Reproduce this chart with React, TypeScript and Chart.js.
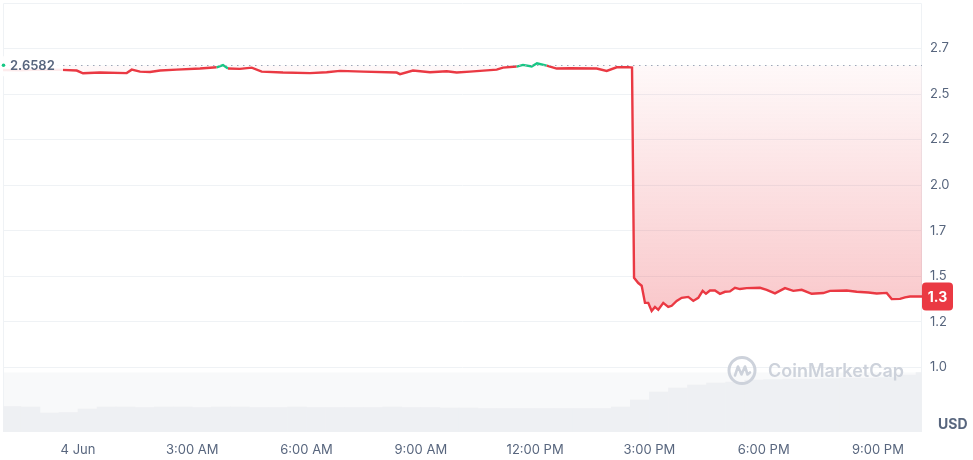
import React, { useEffect, useRef } from 'react';
import { Chart, registerables } from 'chart.js';

Chart.register(...registerables);

// ---- data ----
const REF_PRICE = 2.6582;

// hours relative to 4 Jun 00:00
const TIMES = [
  -1.969, -1.523, -0.998, -0.428, -0.034, 0.131, 0.578, 1.278, 1.41, 1.628,
  1.89, 2.153, 2.591, 3.203, 3.641, 3.806, 3.937, 4.252, 4.56, 4.822,
  5.381, 6.09, 6.528, 6.878, 7.481, 8.366, 8.453, 8.794, 9.24, 9.679,
  9.941, 10.29, 10.991, 11.156, 11.516, 11.681, 11.91, 12.049, 12.304, 12.566,
  12.915, 13.616, 13.879, 14.141, 14.446, 14.544, 14.597, 14.708, 14.797, 14.884,
  14.97, 15.059, 15.146, 15.233, 15.364, 15.495, 15.585, 15.716, 15.847, 16.02,
  16.152, 16.283, 16.398, 16.485, 16.59, 16.721, 16.852, 16.984, 17.115, 17.246,
  17.378, 17.553, 17.903, 18.079, 18.297, 18.559, 18.777, 18.998, 19.26, 19.565,
  19.741, 20.179, 20.442, 20.746, 20.967, 21.229, 21.361, 21.579, 21.71, 21.841,
  22.156,
];

const PRICES = [
  2.632, 2.63, 2.634, 2.633, 2.629, 2.614, 2.618, 2.615, 2.634, 2.623,
  2.621, 2.629, 2.634, 2.64, 2.647, 2.659, 2.64, 2.638, 2.645, 2.623,
  2.618, 2.615, 2.62, 2.627, 2.623, 2.618, 2.609, 2.629, 2.62, 2.625,
  2.618, 2.623, 2.634, 2.645, 2.651, 2.66, 2.651, 2.669, 2.656, 2.64,
  2.642, 2.64, 2.627, 2.647, 2.648, 2.645, 1.491, 1.462, 1.447, 1.353,
  1.353, 1.309, 1.331, 1.315, 1.353, 1.331, 1.337, 1.364, 1.381, 1.386,
  1.364, 1.381, 1.419, 1.403, 1.421, 1.421, 1.403, 1.414, 1.416, 1.436,
  1.429, 1.434, 1.436, 1.425, 1.405, 1.434, 1.419, 1.425, 1.403, 1.407,
  1.419, 1.421, 1.414, 1.41, 1.405, 1.408, 1.374, 1.375, 1.383, 1.388,
  1.388,
];

const VOL_TIMES = [
  -1.75, -1.25, -0.75, -0.25, 0.25, 0.75, 1.25, 1.75, 2.25, 2.75,
  3.25, 3.75, 4.25, 4.75, 5.25, 5.75, 6.25, 6.75, 7.25, 7.75,
  8.25, 8.75, 9.25, 9.75, 10.25, 10.75, 11.25, 11.75, 12.25, 12.75,
  13.25, 13.75, 14.25, 14.75, 15.25, 15.75, 16.25, 16.75, 17.25, 17.75,
  18.25, 18.75, 19.25, 19.75, 20.25, 20.75, 21.25, 21.75, 22.25,
];

// volume, millions USD
const VOLUMES = [
  2.55, 2.5, 1.9, 1.95, 2.3, 2.5, 2.5, 2.45, 2.5, 2.5,
  2.45, 2.5, 2.5, 2.45, 2.45, 2.5, 2.45, 2.45, 2.45, 2.45,
  2.5, 2.45, 2.45, 2.4, 2.4, 2.35, 2.35, 2.35, 2.35, 2.35,
  2.35, 2.35, 2.5, 3.2, 4.0, 4.4, 4.7, 4.9, 5.0, 5.2,
  5.25, 5.3, 5.3, 5.35, 5.4, 5.4, 5.45, 5.7, 5.95,
];

const VOL_BAND_TOP = 5.95;
const VOL_AXIS_MAX = 42.9;

const Y_MIN = 0.644;
const Y_MAX = 3.0;
const Y_TICKS = [1.0, 1.25, 1.5, 1.75, 2.0, 2.25, 2.5, 2.75];
const X_TICKS = [0, 3, 6, 9, 12, 15, 18, 21];
const X_LABELS = ['4 Jun', '3:00 AM', '6:00 AM', '9:00 AM', '12:00 PM', '3:00 PM', '6:00 PM', '9:00 PM'];

// ---- style ----
const RED = '#ea3943';
const GREEN = '#16c784';
const TEXT = '#58667e';
const GRID = '#eff2f5';
const FONT = 'Inter';

const trunc1 = (v: number) => (Math.floor(v * 10 + 1e-9) / 10).toFixed(1);

const decorPlugin = {
  id: 'decor',
  beforeDatasetsDraw(chart: any) {
    const { ctx, chartArea: a, scales } = chart;
    const bandTop = scales.yVol.getPixelForValue(VOL_BAND_TOP);
    ctx.save();
    ctx.fillStyle = '#f8f9fa';
    ctx.fillRect(a.left, bandTop, a.right - a.left, a.bottom - bandTop);
    ctx.strokeStyle = GRID;
    ctx.lineWidth = 1;
    ctx.beginPath();
    ctx.moveTo(a.left + 0.5, a.bottom);
    ctx.lineTo(a.left + 0.5, a.top + 0.5);
    ctx.lineTo(a.right - 0.5, a.top + 0.5);
    ctx.lineTo(a.right - 0.5, a.bottom);
    ctx.stroke();
    ctx.restore();
  },
  afterDatasetsDraw(chart: any) {
    const { ctx, chartArea: a, scales } = chart;
    ctx.save();
    // reference dotted line
    const ry = scales.y.getPixelForValue(REF_PRICE);
    const ryp = Math.round(ry) + 0.5;
    ctx.setLineDash([1.5, 4.5]);
    ctx.lineWidth = 1;
    ctx.strokeStyle = '#9ea6b8';
    ctx.beginPath();
    ctx.moveTo(a.left, ryp);
    ctx.lineTo(a.right, ryp);
    ctx.stroke();
    ctx.setLineDash([]);

    // reference label
    ctx.fillStyle = 'rgba(255,255,255,0.9)';
    ctx.fillRect(a.left - 2, ry - 9, 62, 20);
    ctx.fillStyle = GREEN;
    ctx.beginPath();
    ctx.arc(a.left + 0.5, ry, 1.8, 0, Math.PI * 2);
    ctx.fill();
    ctx.font = `600 13px ${FONT}`;
    ctx.fillStyle = TEXT;
    ctx.textBaseline = 'middle';
    ctx.textAlign = 'left';
    ctx.fillText(REF_PRICE.toFixed(4), a.left + 7, ry + 1);

    // watermark
    const wc = '#cdd2db';
    const cx = a.right - 180;
    const cy = a.bottom - 61.5;
    ctx.strokeStyle = wc;
    ctx.lineWidth = 3;
    ctx.lineJoin = 'round';
    ctx.lineCap = 'round';
    ctx.beginPath();
    ctx.arc(cx, cy, 13, 0, Math.PI * 2);
    ctx.stroke();
    ctx.lineWidth = 2.6;
    ctx.beginPath();
    ctx.moveTo(cx - 7, cy + 5);
    ctx.lineTo(cx - 4, cy - 4);
    ctx.lineTo(cx - 0.5, cy + 4);
    ctx.lineTo(cx + 3, cy - 4);
    ctx.lineTo(cx + 5.5, cy + 4);
    ctx.lineTo(cx + 8, cy + 2);
    ctx.stroke();
    ctx.fillStyle = wc;
    ctx.font = `600 18px ${FONT}`;
    ctx.textAlign = 'left';
    ctx.textBaseline = 'middle';
    ctx.fillText('CoinMarketCap', cx + 26, cy + 1);

    // last price badge
    const last = PRICES[PRICES.length - 1];
    const ly = scales.y.getPixelForValue(last);
    ctx.fillStyle = RED;
    ctx.beginPath();
    (ctx as any).roundRect(a.right, ly - 14, 31, 28, 4);
    ctx.fill();
    ctx.fillStyle = '#ffffff';
    ctx.font = `700 14px ${FONT}`;
    ctx.textAlign = 'center';
    ctx.fillText(trunc1(last), a.right + 15.5, ly + 1);

    // unit
    ctx.fillStyle = TEXT;
    ctx.font = `700 14px ${FONT}`;
    ctx.textAlign = 'left';
    ctx.fillText('USD', a.right + 16, a.bottom - 7);
    ctx.restore();
  },
};

export default function App() {
  const ref = useRef<HTMLCanvasElement | null>(null);

  useEffect(() => {
    document.body.style.margin = '0';
    const canvas = ref.current;
    if (!canvas) return;
    const chart = new Chart(canvas, {
      type: 'line',
      data: {
        datasets: [
          {
            type: 'line',
            data: TIMES.map((t, i) => ({ x: t, y: PRICES[i] })),
            yAxisID: 'y',
            borderColor: RED,
            borderWidth: 2.4,
            pointRadius: 0,
            tension: 0,
            order: 0,
            segment: {
              borderColor: (c: any) =>
                c.p0.parsed.y > REF_PRICE || c.p1.parsed.y > REF_PRICE ? GREEN : RED,
            },
            fill: { target: { value: REF_PRICE }, above: 'rgba(22,199,132,0.12)' },
            backgroundColor: (c: any) => {
              const ch = c.chart;
              const area = ch.chartArea;
              if (!area || !ch.scales.y) return 'rgba(234,57,67,0.12)';
              const y0 = ch.scales.y.getPixelForValue(REF_PRICE);
              const y1 = ch.scales.y.getPixelForValue(Math.min(...PRICES));
              const g = ch.ctx.createLinearGradient(0, y0, 0, y1);
              g.addColorStop(0, 'rgba(234,57,67,0.03)');
              g.addColorStop(1, 'rgba(234,57,67,0.28)');
              return g;
            },
          } as any,
          {
            type: 'bar',
            data: VOL_TIMES.map((t, i) => ({ x: t, y: VOLUMES[i] })),
            yAxisID: 'yVol',
            backgroundColor: '#eef0f3',
            borderWidth: 0,
            barPercentage: 1,
            categoryPercentage: 1,
            order: 1,
          } as any,
        ],
      },
      options: {
        animation: false,
        responsive: false,
        maintainAspectRatio: false,
        layout: { padding: { left: 3, top: 3, right: 0, bottom: 0 } },
        plugins: { legend: { display: false }, tooltip: { enabled: false } },
        scales: {
          x: {
            type: 'linear',
            offset: false,
            min: TIMES[0],
            max: TIMES[TIMES.length - 1],
            grid: { display: false, drawTicks: false, offset: false },
            border: { display: false },
            afterBuildTicks: (s: any) => {
              s.ticks = X_TICKS.map((v) => ({ value: v }));
            },
            afterFit: (s: any) => {
              s.height = 28;
              s.paddingLeft = 0;
              s.paddingRight = 0;
            },
            ticks: {
              autoSkip: false,
              maxRotation: 0,
              padding: 10,
              color: TEXT,
              font: { family: FONT, size: 13 },
              callback: (v: any) => {
                const i = X_TICKS.indexOf(Number(v));
                return i >= 0 ? X_LABELS[i] : '';
              },
            },
          },
          y: {
            position: 'right',
            min: Y_MIN,
            max: Y_MAX,
            grid: { color: GRID, drawTicks: false },
            border: { display: false },
            afterBuildTicks: (s: any) => {
              s.ticks = Y_TICKS.map((v) => ({ value: v }));
            },
            afterFit: (s: any) => {
              s.width = 51;
              s.paddingTop = 0;
              s.paddingBottom = 0;
            },
            ticks: {
              padding: 8,
              color: TEXT,
              font: { family: FONT, size: 13 },
              callback: (v: any) => trunc1(Number(v)),
            },
          },
          yVol: {
            display: false,
            min: 0,
            max: VOL_AXIS_MAX,
          },
        },
      } as any,
      plugins: [decorPlugin],
    });
    return () => chart.destroy();
  }, []);

  return (
    <div style={{ width: 973, height: 460 }}>
      <canvas ref={ref} width={973} height={460} style={{ display: 'block' }} />
    </div>
  );
}
